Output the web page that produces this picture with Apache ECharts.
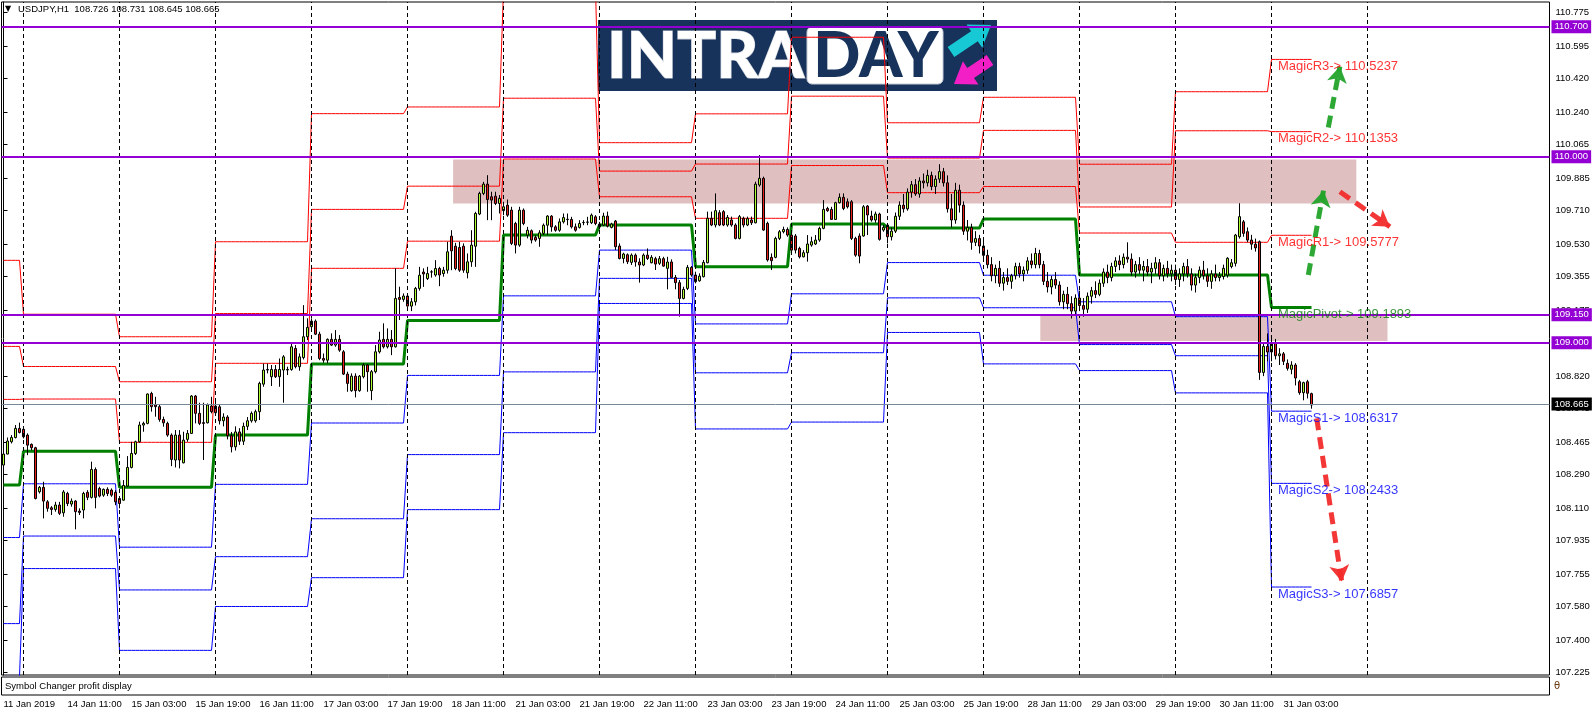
<!DOCTYPE html>
<html><head><meta charset="utf-8">
<script src="https://cdn.jsdelivr.net/npm/echarts@6/dist/echarts.min.js"></script>
<style>html,body{margin:0;padding:0;background:#fff}#c{width:1596px;height:716px}</style>
</head><body><div id="c"></div>
<script>
// ---------- DATA ----------
const symbolName = 'USDJPY,H1';
const firstLabel = '11 Jan 2019';
const dayNames = ['11 Jan','14 Jan','15 Jan','16 Jan','17 Jan','18 Jan','21 Jan','22 Jan','23 Jan','24 Jan','25 Jan','28 Jan','29 Jan','30 Jan','31 Jan'];
const dayFirstHour = [19,0,0,0,0,0,0,0,0,0,0,0,0,0,0];
const futureDays = ['31 Jan','1 Feb','4 Feb'];
const futureFirstHour = [11,0,0];
const separatorFuture = ['1 Feb 00:00'];

// candles per day: [open, high, low, close]
const jan11 = [[108.342,108.410,108.320,108.401],[108.401,108.490,108.400,108.471],[108.467,108.503,108.458,108.490],[108.490,108.557,108.485,108.539],[108.539,108.570,108.512,108.517]];
const jan14 = [[108.534,108.548,108.485,108.494],[108.503,108.512,108.395,108.449],[108.453,108.458,108.422,108.435],[108.435,108.440,108.157,108.162],[108.198,108.229,108.189,108.222],[108.222,108.252,108.055,108.148],[108.144,108.153,108.091,108.109],[108.112,108.121,108.073,108.103],[108.103,108.144,108.091,108.127],[108.127,108.144,108.073,108.082],[108.085,108.207,108.064,108.197],[108.189,108.198,108.121,108.135],[108.132,108.162,108.118,108.148],[108.148,108.153,107.996,108.091],[108.094,108.109,108.073,108.087],[108.100,108.198,108.055,108.189],[108.195,108.207,108.153,108.168],[108.168,108.360,108.162,108.318],[108.318,108.329,108.109,108.168],[108.216,108.225,108.168,108.175],[108.180,108.216,108.171,108.211],[108.211,108.222,108.175,108.189],[108.207,108.216,108.171,108.180],[108.195,108.207,108.126,108.144]];
const jan15 = [[108.162,108.171,108.109,108.135],[108.153,108.261,108.150,108.232],[108.229,108.390,108.225,108.329],[108.329,108.467,108.324,108.404],[108.404,108.473,108.396,108.467],[108.467,108.575,108.462,108.557],[108.557,108.575,108.521,108.566],[108.566,108.727,108.561,108.724],[108.727,108.736,108.629,108.656],[108.665,108.709,108.602,108.656],[108.656,108.665,108.575,108.587],[108.587,108.602,108.548,108.569],[108.566,108.575,108.494,108.503],[108.503,108.512,108.336,108.372],[108.369,108.530,108.329,108.503],[108.503,108.530,108.324,108.369],[108.354,108.521,108.351,108.476],[108.480,108.530,108.467,108.512],[108.512,108.718,108.509,108.713],[108.713,108.718,108.566,108.620],[108.620,108.677,108.557,108.566],[108.570,108.677,108.369,108.566],[108.569,108.673,108.566,108.665],[108.659,108.709,108.620,108.629]];
const jan16 = [[108.659,108.700,108.611,108.623],[108.655,108.670,108.560,108.580],[108.580,108.620,108.550,108.600],[108.600,108.610,108.480,108.500],[108.500,108.520,108.410,108.440],[108.440,108.550,108.420,108.520],[108.520,108.540,108.450,108.470],[108.470,108.570,108.450,108.550],[108.550,108.600,108.530,108.580],[108.580,108.630,108.570,108.620],[108.580,108.640,108.570,108.629],[108.629,108.790,108.584,108.781],[108.777,108.888,108.763,108.853],[108.856,108.888,108.835,108.853],[108.817,108.880,108.767,108.856],[108.856,108.880,108.810,108.817],[108.817,108.915,108.763,108.856],[108.853,108.933,108.677,108.924],[108.856,108.871,108.826,108.853],[108.856,108.996,108.849,108.978],[108.969,108.987,108.862,108.871],[108.871,108.942,108.849,108.924],[108.920,109.202,108.910,109.032],[109.032,109.131,109.014,109.082]];
const jan17 = [[109.086,109.131,109.077,109.116],[109.116,109.125,109.041,109.046],[109.046,109.059,108.906,108.915],[108.915,108.942,108.892,108.906],[108.906,109.023,108.889,109.018],[109.018,109.050,108.982,108.987],[108.987,109.068,108.978,109.018],[109.018,109.041,108.951,108.960],[108.951,108.960,108.826,108.831],[108.831,108.844,108.736,108.781],[108.742,108.835,108.736,108.820],[108.820,108.835,108.706,108.742],[108.742,108.826,108.736,108.820],[108.817,108.889,108.808,108.880],[108.880,108.885,108.736,108.844],[108.742,108.853,108.691,108.844],[108.844,108.987,108.835,108.951],[108.951,109.059,108.942,109.014],[109.018,109.104,108.969,108.978],[108.978,109.077,108.969,109.018],[109.018,109.068,108.933,108.978],[108.978,109.400,108.974,109.238],[109.243,109.301,109.122,109.233],[109.233,109.265,109.220,109.251]];
const jan18 = [[109.251,109.265,109.193,109.197],[109.197,109.240,109.170,109.220],[109.220,109.300,109.200,109.292],[109.292,109.408,109.280,109.363],[109.380,109.400,109.300,109.370],[109.345,109.408,109.337,109.372],[109.381,109.390,109.350,109.380],[109.364,109.444,109.355,109.399],[109.399,109.408,109.304,109.364],[109.372,109.408,109.355,109.390],[109.390,109.543,109.372,109.489],[109.573,109.605,109.390,109.494],[109.519,109.537,109.390,109.399],[109.512,109.543,109.381,109.390],[109.519,109.534,109.376,109.390],[109.376,109.480,109.346,109.435],[109.435,109.605,109.408,109.525],[109.519,109.704,109.408,109.695],[109.692,109.812,109.686,109.803],[109.803,109.865,109.794,109.853],[109.853,109.901,109.659,109.770],[109.785,109.812,109.659,109.767],[109.788,109.812,109.740,109.749],[109.749,109.794,109.695,109.776]];
const jan21 = [[109.710,109.758,109.686,109.731],[109.740,109.770,109.677,109.686],[109.713,109.731,109.525,109.534],[109.641,109.650,109.480,109.525],[109.525,109.731,109.516,109.713],[109.713,109.722,109.632,109.641],[109.579,109.623,109.561,109.605],[109.602,109.609,109.534,109.552],[109.566,109.578,109.543,109.552],[109.561,109.605,109.516,109.591],[109.588,109.641,109.579,109.632],[109.632,109.686,109.579,109.681],[109.681,109.686,109.597,109.623],[109.623,109.632,109.597,109.605],[109.605,109.668,109.597,109.650],[109.650,109.695,109.641,109.673],[109.664,109.695,109.632,109.662],[109.663,109.677,109.614,109.623],[109.623,109.641,109.597,109.605],[109.620,109.659,109.614,109.641],[109.647,109.659,109.632,109.646],[109.648,109.677,109.632,109.649],[109.645,109.695,109.638,109.686],[109.677,109.686,109.632,109.641]];
const jan22 = [[109.623,109.650,109.609,109.638],[109.633,109.699,109.627,109.681],[109.681,109.705,109.620,109.627],[109.620,109.645,109.615,109.638],[109.654,109.660,109.498,109.516],[109.520,109.534,109.448,109.453],[109.453,109.484,109.427,109.477],[109.473,109.480,109.423,109.436],[109.432,109.480,109.418,109.471],[109.471,109.480,109.409,109.434],[109.434,109.454,109.323,109.418],[109.418,109.480,109.412,109.471],[109.471,109.507,109.445,109.453],[109.430,109.471,109.427,109.459],[109.452,109.462,109.391,109.423],[109.427,109.466,109.418,109.452],[109.452,109.462,109.409,109.412],[109.400,109.462,109.287,109.434],[109.434,109.448,109.346,109.351],[109.351,109.364,109.287,109.323],[109.323,109.337,109.140,109.238],[109.238,109.301,109.233,109.287],[109.292,109.418,109.283,109.405],[109.405,109.412,109.355,109.364]];
const jan23 = [[109.364,109.382,109.319,109.328],[109.333,109.373,109.328,109.358],[109.355,109.445,109.351,109.432],[109.430,109.705,109.427,109.669],[109.669,109.705,109.627,109.633],[109.633,109.803,109.620,109.710],[109.699,109.713,109.627,109.633],[109.705,109.713,109.627,109.633],[109.633,109.687,109.624,109.674],[109.660,109.678,109.624,109.633],[109.633,109.642,109.556,109.561],[109.561,109.687,109.556,109.678],[109.669,109.678,109.620,109.633],[109.633,109.678,109.627,109.667],[109.660,109.678,109.633,109.645],[109.645,109.866,109.642,109.853],[109.848,110.009,109.839,109.884],[109.884,109.893,109.602,109.606],[109.642,109.651,109.436,109.445],[109.459,109.480,109.391,109.441],[109.459,109.570,109.454,109.561],[109.561,109.606,109.552,109.597],[109.597,109.624,109.588,109.609],[109.609,109.620,109.570,109.579]];
const jan24 = [[109.579,109.588,109.489,109.498],[109.574,109.584,109.480,109.498],[109.507,109.516,109.453,109.462],[109.462,109.498,109.459,109.484],[109.484,109.579,109.436,109.531],[109.525,109.570,109.516,109.543],[109.531,109.579,109.525,109.552],[109.552,109.624,109.543,109.615],[109.615,109.767,109.610,109.717],[109.722,109.731,109.704,109.710],[109.717,109.731,109.660,109.663],[109.663,109.758,109.660,109.753],[109.753,109.803,109.749,109.782],[109.782,109.803,109.713,109.722],[109.758,109.776,109.722,109.731],[109.758,109.767,109.552,109.561],[109.561,109.570,109.462,109.471],[109.574,109.588,109.427,109.466],[109.574,109.740,109.570,109.731],[109.735,109.740,109.579,109.687],[109.681,109.710,109.651,109.660],[109.660,109.705,109.645,109.692],[109.692,109.699,109.549,109.556],[109.606,109.633,109.597,109.620]];
const jan25 = [[109.633,109.642,109.534,109.570],[109.57,109.62,109.55,109.60],[109.60,109.70,109.59,109.68],[109.68,109.76,109.66,109.74],[109.74,109.80,109.70,109.72],[109.72,109.83,109.71,109.81],[109.81,109.87,109.78,109.85],[109.85,109.88,109.79,109.80],[109.80,109.89,109.78,109.87],[109.87,109.91,109.83,109.86],[109.86,109.93,109.84,109.90],[109.90,109.92,109.82,109.84],[109.84,109.90,109.80,109.88],[109.88,109.96,109.86,109.92],[109.92,109.94,109.84,109.86],[109.86,109.90,109.70,109.72],[109.72,109.80,109.62,109.66],[109.66,109.86,109.64,109.82],[109.82,109.85,109.70,109.74],[109.74,109.76,109.58,109.60],[109.60,109.66,109.55,109.62],[109.62,109.64,109.50,109.54],[109.54,109.60,109.52,109.56],[109.56,109.58,109.48,109.52]];
const jan28 = [[109.52,109.55,109.45,109.47],[109.47,109.50,109.40,109.42],[109.42,109.46,109.33,109.36],[109.36,109.42,109.32,109.40],[109.40,109.44,109.30,109.32],[109.32,109.38,109.28,109.35],[109.35,109.40,109.31,109.33],[109.33,109.37,109.29,109.36],[109.36,109.43,109.34,109.41],[109.41,109.43,109.35,109.37],[109.37,109.41,109.33,109.39],[109.39,109.46,109.37,109.44],[109.44,109.48,109.40,109.42],[109.42,109.51,109.40,109.48],[109.48,109.50,109.40,109.42],[109.42,109.44,109.31,109.33],[109.33,109.38,109.27,109.30],[109.30,109.36,109.26,109.34],[109.34,109.38,109.29,109.31],[109.31,109.33,109.20,109.22],[109.22,109.28,109.18,109.26],[109.26,109.30,109.18,109.21],[109.21,109.25,109.13,109.17],[109.17,109.26,109.15,109.24]];
const jan29 = [[109.24,109.28,109.17,109.20],[109.20,109.24,109.14,109.18],[109.18,109.27,109.16,109.25],[109.25,109.30,109.21,109.28],[109.28,109.33,109.24,109.26],[109.26,109.34,109.25,109.32],[109.32,109.40,109.30,109.38],[109.38,109.42,109.32,109.35],[109.35,109.43,109.33,109.41],[109.41,109.46,109.38,109.44],[109.44,109.47,109.39,109.42],[109.42,109.48,109.40,109.46],[109.46,109.54,109.43,109.45],[109.45,109.48,109.36,109.38],[109.38,109.44,109.35,109.42],[109.42,109.46,109.37,109.39],[109.39,109.44,109.33,109.41],[109.41,109.45,109.36,109.38],[109.38,109.43,109.32,109.40],[109.40,109.46,109.37,109.43],[109.43,109.45,109.34,109.36],[109.36,109.42,109.33,109.40],[109.40,109.44,109.35,109.37],[109.37,109.42,109.33,109.39]];
const jan30 = [[109.39,109.42,109.31,109.34],[109.34,109.40,109.30,109.37],[109.37,109.43,109.33,109.41],[109.41,109.45,109.35,109.37],[109.37,109.40,109.28,109.31],[109.31,109.37,109.27,109.35],[109.35,109.41,109.32,109.39],[109.39,109.44,109.34,109.36],[109.36,109.40,109.30,109.33],[109.33,109.39,109.29,109.37],[109.37,109.42,109.33,109.35],[109.35,109.38,109.33,109.36],[109.356,109.42,109.34,109.40],[109.364,109.46,109.35,109.454],[109.41,109.45,109.40,109.43],[109.427,109.585,109.41,109.579],[109.57,109.75,109.56,109.678],[109.65,109.66,109.57,109.588],[109.597,109.62,109.54,109.552],[109.552,109.58,109.50,109.53],[109.53,109.56,109.49,109.51],[109.543,109.55,108.80,108.84],[108.84,109.00,108.82,108.98],[108.98,109.05,108.90,108.95]];
const jan31 = [[108.95,109.04,108.90,109.00],[109.00,109.02,108.91,108.93],[108.93,108.97,108.88,108.94],[108.94,108.95,108.88,108.90],[108.889,108.91,108.85,108.862],[108.857,108.90,108.83,108.88],[108.88,108.89,108.77,108.81],[108.79,108.80,108.72,108.731],[108.731,108.79,108.69,108.785],[108.790,108.80,108.70,108.728],[108.726,108.731,108.645,108.665]];
const days = [jan11,jan14,jan15,jan16,jan17,jan18,jan21,jan22,jan23,jan24,jan25,jan28,jan29,jan30,jan31];

// daily pivot levels (one value per day)
const levelR3 = [109.443,109.153,109.032,109.543,110.232,110.268,110.902,110.076,110.231,110.643,110.183,110.320,109.960,110.350,110.5237];
const levelR2 = [108.980,108.872,108.790,109.157,109.717,109.842,110.315,109.923,109.961,110.326,109.993,110.142,109.730,110.140,110.1353];
const levelR1 = [108.695,108.697,108.464,108.889,109.400,109.546,109.988,109.785,109.669,109.953,109.807,109.840,109.590,109.540,109.5777];
const levelPP = [108.234,108.416,108.222,108.503,108.885,109.120,109.579,109.633,109.409,109.638,109.617,109.665,109.364,109.364,109.1893];
const levelS1 = [107.952,108.241,107.900,108.238,108.568,108.824,109.252,109.498,109.101,109.263,109.431,109.363,109.220,109.140,108.6317];
const levelS2 = [107.489,107.960,107.670,107.849,108.053,108.398,108.843,109.346,108.838,108.946,109.241,109.188,108.990,108.930,108.2433];
const levelS3 = [107.205,107.785,107.345,107.581,107.736,108.102,108.516,109.211,108.536,108.573,109.055,108.886,108.850,108.730,107.6857];
const levelNames = ['MagicR3','MagicR2','MagicR1','MagicPivot','MagicS1','MagicS2','MagicS3'];

const yTickLabels = ['107.225','107.400','107.580','107.755','107.935','108.110','108.290','108.465','108.645','108.820','109.000','109.175','109.355','109.530','109.710','109.885','110.065','110.240','110.420','110.595','110.775'];
const horizontalLevels = [110.700, 110.000, 109.150, 109.000];
// shaded zones: [fromBar, toBar, lowPrice, highPrice]
const zones = [[112.4, 338.2, 109.749, 109.986], [259.2, 346.0, 109.009, 109.145]];
// dashed arrows: [fromBar, fromPrice, toBar, toPrice, kind]
const arrows = [[326.2,109.364,330.0,109.818,'up'],[331.2,110.158,334.1,110.486,'up'],[334.1,109.812,346.6,109.624,'down'],[328.3,108.593,334.55,107.716,'down']];
const labelBar = 318.5;
const totalSlots = 387;

// ---------- BUILD ----------
const pad = h => (h < 10 ? '0' : '') + h;
const categories = [], candles = [];
const lv = [levelR3, levelR2, levelR1, levelPP, levelS1, levelS2, levelS3];
const lvData = lv.map(() => []);
const dayStarts = [];
days.forEach((arr, d) => {
  dayStarts.push(categories.length);
  arr.forEach((b, k) => {
    categories.push(dayNames[d] + ' ' + pad(dayFirstHour[d] + k) + ':00');
    candles.push([b[0], b[3], b[2], b[1]]);
    lv.forEach((L, j) => lvData[j].push(L[d]));
  });
});
const lastIdx = categories.length - 1;
for (let f = 0; f < futureDays.length && categories.length < totalSlots; f++) {
  for (let h = futureFirstHour[f]; h < 24 && categories.length < totalSlots; h++) {
    categories.push(futureDays[f] + ' ' + pad(h) + ':00');
  }
}
const sepIdx = dayStarts.slice(1).concat(separatorFuture.map(s => categories.indexOf(s)));
const last = days[days.length - 1][days[days.length - 1].length - 1];
const lastClose = last[3];
const tickVals = yTickLabels.map(parseFloat);

const FONT = 'Liberation Sans';
const FS = 9.5;
const yMin = 107.2125, yMax = 110.8326;
const gridL = 1.5, gridR = 1596 - 1.5 - totalSlots * 4;

const lvColors = ['#ff0000','#ff0000','#ff0000','#008000','#0000ff','#0000ff','#0000ff'];
const lvLabelColors = ['#ff0000','#ff0000','#ff0000','#0a7a0a','#0000ff','#0000ff','#0000ff'];

function arrowPoly(tail, tip, shaft, head, headLen) {
  const dx = tip[0]-tail[0], dy = tip[1]-tail[1], len = Math.hypot(dx, dy);
  const ux = dx/len, uy = dy/len, nx = -uy, ny = ux;
  const bx = tip[0]-ux*headLen, by = tip[1]-uy*headLen;
  return [[tail[0]+nx*shaft/2, tail[1]+ny*shaft/2],[bx+nx*shaft/2, by+ny*shaft/2],[bx+nx*head/2, by+ny*head/2],tip,[bx-nx*head/2, by-ny*head/2],[bx-nx*shaft/2, by-ny*shaft/2],[tail[0]-nx*shaft/2, tail[1]-ny*shaft/2]];
}
function priceLabel(v, bg) {
  return { show: true, position: 'end', distance: 2, formatter: () => v.toFixed(3), color: '#fff',
    backgroundColor: bg, padding: [2, 3, 1, 3], fontSize: FS, fontFamily: FONT };
}

const series = [];
series.push({
  type: 'line', xAxisIndex: 1, yAxisIndex: 0, data: [], z: 1, silent: true,
  markArea: { silent: true, itemStyle: { color: '#dfbfbf' },
    data: zones.map(z => [{ coord: [z[0], z[3]] }, { coord: [z[1], z[2]] }]) },
  markLine: { silent: true, symbol: 'none', label: { show: false },
    lineStyle: { color: '#000', type: [4, 3], width: 1 },
    data: sepIdx.map(i => ({ xAxis: i })) }
});
lvData.forEach((d, j) => {
  series.push({ type: 'line', xAxisIndex: 0, yAxisIndex: 0, data: d, showSymbol: false, symbol: 'none',
    z: 2, silent: true, lineStyle: { color: lvColors[j], width: j === 3 ? 3 : 1 } });
});
series.push({
  type: 'candlestick', xAxisIndex: 0, yAxisIndex: 0, data: candles, z: 3, barWidth: 2, large: false,
  itemStyle: { color: '#adff2f', color0: '#e8201b', borderColor: '#000', borderColor0: '#000', borderWidth: 1 }
});
series.push({
  type: 'line', xAxisIndex: 1, yAxisIndex: 0, data: [], z: 5, silent: true,
  markLine: { silent: true, symbol: 'none',
    data: horizontalLevels.map(v => ({ yAxis: v, lineStyle: { color: '#9400d3', width: 2, type: 'solid' }, label: priceLabel(v, '#9400d3') }))
      .concat([{ yAxis: lastClose, lineStyle: { color: '#778899', width: 1, type: 'solid' }, label: priceLabel(lastClose, '#000') }]) }
});
series.push({
  type: 'line', xAxisIndex: 1, yAxisIndex: 0, data: [], z: 6, silent: true,
  markLine: { silent: true, symbol: ['none', 'arrow'], symbolSize: [15, 16], label: { show: false },
    data: arrows.map(a => [{ coord: [a[0], a[1]], lineStyle: { color: a[4] === 'up' ? '#22a32a' : '#f22b2b', width: 5, type: [12, 7], opacity: 0.95 } },
      { coord: [a[2], a[3]] }]) }
});
series.push({
  type: 'scatter', xAxisIndex: 1, yAxisIndex: 0, z: 7, silent: true, symbolSize: 1,
  itemStyle: { color: 'rgba(0,0,0,0)' },
  data: lv.map((L, j) => ({ value: [labelBar, L[L.length - 1]], name: levelNames[j],
    label: { color: lvLabelColors[j] } })),
  label: { show: true, position: [1, 1], align: 'left', verticalAlign: 'top', fontSize: 13, fontFamily: FONT,
    formatter: p => p.name + '-> ' + p.value[1].toFixed(4) }
});

const header = symbolName + '  ' + last.map(v => v.toFixed(3)).join(' ');
const navy = '#17335b';
const option = {
  animation: false,
  backgroundColor: '#fff',
  grid: [
    { left: gridL, right: gridR, top: 2, bottom: 41, show: true, borderColor: '#000', borderWidth: 1, backgroundColor: 'transparent' },
    { left: gridL, right: gridR, top: 677, bottom: 21, show: true, borderColor: '#000', borderWidth: 1, backgroundColor: 'transparent' }
  ],
  xAxis: [
    { type: 'category', gridIndex: 0, data: categories, boundaryGap: true, axisLine: { show: false }, axisTick: { show: false }, axisLabel: { show: false }, splitLine: { show: false } },
    { type: 'value', gridIndex: 0, min: -0.5, max: totalSlots - 0.5, show: false, splitLine: { show: false } },
    { type: 'category', gridIndex: 1, data: categories, boundaryGap: true, axisLine: { show: false }, axisTick: { show: false },
      axisLabel: { show: true, interval: 15, align: 'left', margin: 4, fontSize: FS, fontFamily: FONT, color: '#000', showMaxLabel: false,
        formatter: (v, i) => i === 0 ? firstLabel : (i <= lastIdx ? v : '') }, splitLine: { show: false } }
  ],
  yAxis: [
    { type: 'value', gridIndex: 0, position: 'right', min: yMin, max: yMax,
      axisLine: { show: true, lineStyle: { color: '#000', width: 1 } },
      axisTick: { show: true, length: 4, lineStyle: { color: '#000' }, customValues: tickVals },
      axisLabel: { show: true, customValues: tickVals, margin: 6, fontSize: FS, fontFamily: FONT, color: '#000',
        formatter: v => { const k = tickVals.findIndex(t => Math.abs(t - v) < 0.001); return k >= 0 ? yTickLabels[k] : ''; } },
      splitLine: { show: false } },
    { type: 'value', gridIndex: 1, show: false }
  ],
  series: series,
  graphic: [
    { type: 'text', left: 5, top: 5, style: { text: '▼', fill: '#000', font: '8px "DejaVu Sans"' } },
    { type: 'text', left: 18, top: 4, style: { text: header, fill: '#000', font: FS + 'px "Liberation Sans"' } },
    { type: 'text', left: 5, top: 681, style: { text: 'Symbol Changer profit display', fill: '#000', font: FS + 'px "Liberation Sans"' } },
    { type: 'text', left: 1554, top: 681, style: { text: 'θ', fill: '#6b3a10', font: '10px "DejaVu Sans"' } },
    { type: 'group', z: 100, children: [
      { type: 'rect', shape: { x: 598, y: 20, width: 399, height: 71 }, style: { fill: navy } },
      { type: 'text', x: 607, y: 57, style: { text: 'INTRA', fill: '#fff', stroke: '#c7ccd6', lineWidth: 1.2, font: '900 65px Lato', textVerticalAlign: 'middle', verticalAlign: 'middle' } },
      { type: 'rect', shape: { x: 807, y: 27, width: 136, height: 57, r: 5 }, style: { fill: '#fff', stroke: '#c7ccd6', lineWidth: 1 } },
      { type: 'text', x: 876, y: 57, style: { text: 'DAY', fill: navy, font: '900 62px Lato', textAlign: 'center', align: 'center', textVerticalAlign: 'middle', verticalAlign: 'middle' } },
      { type: 'polygon', shape: { points: arrowPoly([951, 52], [991, 25], 12, 28, 20) }, style: { fill: '#16c9d4' } },
      { type: 'polygon', shape: { points: arrowPoly([990, 60], [954, 84], 12, 28, 20) }, style: { fill: '#f21ec6' } }
    ] }
  ]
};
const chart = echarts.init(document.getElementById('c'), null, { renderer: 'canvas', width: 1596, height: 716 });
chart.setOption(option);
</script>
</body></html>
